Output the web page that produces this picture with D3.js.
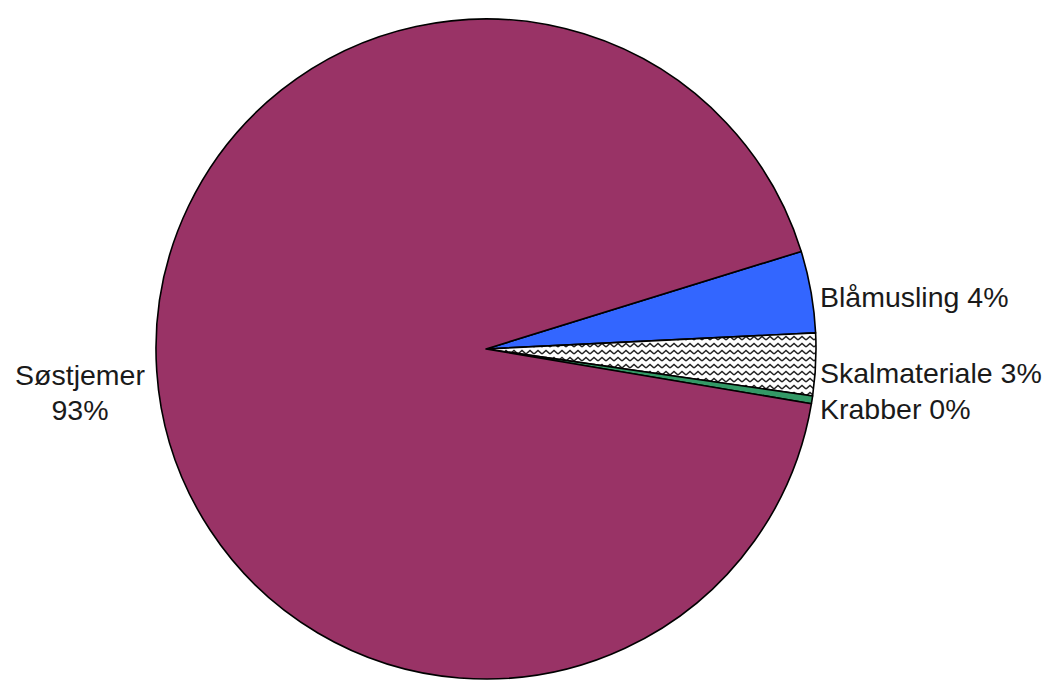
<!DOCTYPE html>
<html>
<head>
<meta charset="utf-8">
<script src="https://cdn.jsdelivr.net/npm/d3@7"></script>
<style>
  body { margin: 0; background: #fff; }
  svg text { font-family: "Liberation Sans", Arial, sans-serif; fill: #1a1a1a; }
</style>
</head>
<body>
<div id="chart"></div>
<script>
// slices in clockwise order, starting at the top edge of Blåmusling
const categories = ["Blåmusling", "Skalmateriale", "Krabber", "Søstjemer"];
const values = [4.0, 3.05, 0.38, 92.57];
const pctLabels = ["4%", "3%", "0%", "93%"];
const colors = ["#3366ff", "url(#zigzag)", "#339966", "#993366"];

const width = 1042, height = 682;
const cx = 486, cy = 349, r = 330;
const startDeg = 72.8;

const svg = d3.select("#chart").append("svg")
    .attr("width", width)
    .attr("height", height);

// zigzag fill used by Skalmateriale
const defs = svg.append("defs");
const pat = defs.append("pattern")
    .attr("id", "zigzag")
    .attr("patternUnits", "userSpaceOnUse")
    .attr("width", 8)
    .attr("height", 7);
pat.append("rect").attr("width", 8).attr("height", 7).attr("fill", "#fff");
pat.append("path")
    .attr("d", "M0,5 L4,1.5 L8,5")
    .attr("fill", "none")
    .attr("stroke", "#222")
    .attr("stroke-width", 1.5);

const data = categories.map((c, i) => ({ name: c, value: values[i], pct: pctLabels[i], color: colors[i] }));

const pie = d3.pie()
    .sort(null)
    .value(d => d.value)
    .startAngle(startDeg * Math.PI / 180)
    .endAngle((startDeg + 360) * Math.PI / 180);

const arc = d3.arc().innerRadius(0).outerRadius(r);

const g = svg.append("g").attr("transform", `translate(${cx},${cy})`);

const arcs = pie(data);

g.selectAll("path.slice")
    .data(arcs)
    .enter().append("path")
        .attr("class", "slice")
        .attr("d", arc)
        .attr("fill", d => d.data.color)
        .attr("stroke", "#000")
        .attr("stroke-width", 1.6)
        .attr("stroke-linejoin", "round");

// labels
const fs = 28.5;
const nudge = { "Blåmusling": 5, "Skalmateriale": 9, "Krabber": 9 };
arcs.forEach(d => {
    let mid = (d.startAngle + d.endAngle) / 2;
    let y = -Math.cos(mid) * r;
    if (d.data.name === "Søstjemer") {
        let t = g.append("text")
            .attr("text-anchor", "middle")
            .attr("font-size", fs);
        t.append("tspan").attr("x", -r - 76).attr("y", 36).text(d.data.name);
        t.append("tspan").attr("x", -r - 76).attr("y", 71).text(d.data.pct);
    } else {
        g.append("text")
            .attr("x", r + 4)
            .attr("y", y + nudge[d.data.name])
            .attr("dy", "0.35em")
            .attr("font-size", fs)
            .text(`${d.data.name} ${d.data.pct}`);
    }
});
</script>
</body>
</html>
